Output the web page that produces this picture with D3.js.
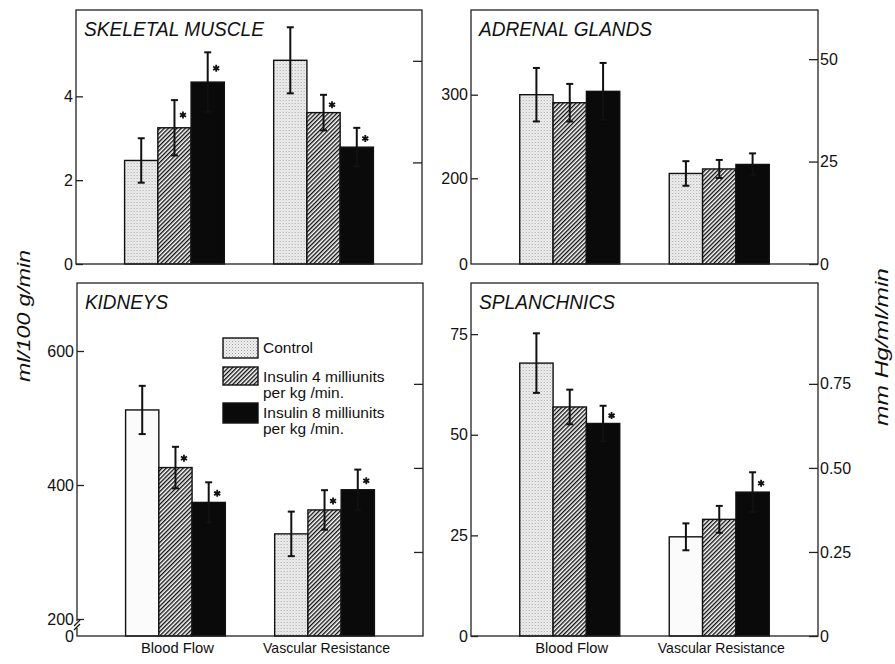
<!DOCTYPE html>
<html><head><meta charset="utf-8">
<script src="https://cdn.jsdelivr.net/npm/d3@7"></script>
<style>
body{margin:0;background:#fff}
svg{display:block}
text{font-family:"Liberation Sans",Arial,sans-serif;fill:#111}
</style>
</head><body>
<svg id="chart" width="895" height="664"></svg>
<script>
// ---------- data ----------
const groups = ["Blood Flow", "Vascular Resistance"];
const treatments = ["Control", "Insulin 4 milliunits per kg/min.", "Insulin 8 milliunits per kg/min."];
const panelNames = ["SKELETAL MUSCLE", "ADRENAL GLANDS", "KIDNEYS", "SPLANCHNICS"];
const legendLines = [["Control"], ["Insulin 4 milliunits", "per  kg /min."], ["Insulin 8 milliunits", "per kg /min."]];
const leftTitle = "ml/100 g/min";
const rightTitle = "mm Hg/ml/min";

// blood flow (left axis) and vascular resistance (right axis); means and SE
const skeletalFlow = [2.47, 3.25, 4.34];
const skeletalFlowSE = [0.53, 0.66, 0.71];
const skeletalResist = [40.1, 29.8, 23.0];
const skeletalResistSE = [6.5, 3.5, 3.8];
const skeletalStars = [[0, 1, 1], [0, 1, 1]];

const adrenalFlow = [300, 290.4, 304];
const adrenalFlowSE = [32, 22.5, 34];
const adrenalResist = [22.1, 23.2, 24.3];
const adrenalResistSE = [3.0, 2.2, 2.7];
const adrenalStars = [[0, 0, 0], [0, 0, 0]];

const kidneyFlow = [512, 426, 374];
const kidneyFlowSE = [36, 31, 30];
const kidneyResist = [12.15, 15.0, 17.4];
const kidneyResistSE = [2.65, 2.35, 2.4];
const kidneyStars = [[0, 1, 1], [0, 1, 1]];

const splanchFlow = [67.8, 56.9, 52.8];
const splanchFlowSE = [7.4, 4.3, 4.4];
const splanchResist = [0.295, 0.347, 0.428];
const splanchResistSE = [0.04, 0.04, 0.059];
const splanchStars = [[0, 0, 1], [0, 0, 1]];

// tick values
const skeletalLeftTicks = [0, 2, 4];
const skeletalRightTicks = [20, 40];
const adrenalLeftTicks = [200, 300];
const adrenalRightTicks = [0, 25, 50];
const kidneyLeftTicks = [200, 400, 600];
const kidneyRightTicks = [10, 20, 30];
const splanchLeftTicks = [0, 25, 50, 75];
const splanchRightTicks = [0, 0.25, 0.5, 0.75];
const splanchRightLabels = ["0", "0.25", "0.50", "0.75"];

// ---------- layout ----------
const svg = d3.select("#chart");
const defs = svg.append("defs");

const stip = defs.append("pattern").attr("id", "stipple").attr("patternUnits", "userSpaceOnUse")
  .attr("width", 3).attr("height", 3);
stip.append("rect").attr("width", 3).attr("height", 3).attr("fill", "#efefef");
stip.append("rect").attr("x", 0).attr("y", 0).attr("width", 1).attr("height", 1).attr("fill", "#a0a0a0");
stip.append("rect").attr("x", 1.5).attr("y", 1.5).attr("width", 1).attr("height", 1).attr("fill", "#c4c4c4");

const hatch = defs.append("pattern").attr("id", "hatch").attr("patternUnits", "userSpaceOnUse")
  .attr("width", 3).attr("height", 3).attr("patternTransform", "rotate(45)");
hatch.append("rect").attr("width", 3).attr("height", 3).attr("fill", "#fff");
hatch.append("line").attr("x1", 0.7).attr("y1", 0).attr("x2", 0.7).attr("y2", 3)
  .attr("stroke", "#111").attr("stroke-width", 1.4);

const fills = ["url(#stipple)", "url(#hatch)", "#0a0a0a"];
// control bars printed without stipple in the original
const plainControl = { "KIDNEYS": "Blood Flow", "SPLANCHNICS": "Vascular Resistance" };

const panels = [
  { name: panelNames[0], x: 76, y: 10, w: 346, h: 254, flow: skeletalFlow, flowSE: skeletalFlowSE,
    resist: skeletalResist, resistSE: skeletalResistSE, stars: skeletalStars,
    left: [0, 6.06], right: [0, 50], lt: skeletalLeftTicks, rt: skeletalRightTicks, rLabels: null, zeroLeft: false, brk: false, xLabels: false },
  { name: panelNames[1], x: 471, y: 10, w: 347, h: 254, flow: adrenalFlow, flowSE: adrenalFlowSE,
    resist: adrenalResist, resistSE: adrenalResistSE, stars: adrenalStars,
    left: [97.5, 401.3], right: [0, 62], lt: adrenalLeftTicks, rt: adrenalRightTicks, rLabels: adrenalRightTicks.map(String), zeroLeft: true, brk: false, xLabels: false },
  { name: panelNames[2], x: 77, y: 283, w: 346, h: 353, flow: kidneyFlow, flowSE: kidneyFlowSE,
    resist: kidneyResist, resistSE: kidneyResistSE, stars: kidneyStars,
    left: [174.6, 701.5], right: [0, 42], lt: kidneyLeftTicks, rt: kidneyRightTicks, rLabels: null, zeroLeft: true, brk: true, xLabels: true },
  { name: panelNames[3], x: 471, y: 283, w: 347, h: 353, flow: splanchFlow, flowSE: splanchFlowSE,
    resist: splanchResist, resistSE: splanchResistSE, stars: splanchStars,
    left: [0, 87.7], right: [0, 1.05], lt: splanchLeftTicks, rt: splanchRightTicks, rLabels: splanchRightLabels, zeroLeft: false, brk: false, xLabels: true }
];

const star = d3.symbol().type(d3.symbolAsterisk).size(34);

panels.forEach(p => {
  const g = svg.append("g").attr("transform", `translate(${p.x},${p.y})`);
  const x0 = d3.scaleBand().domain(groups).range([0, p.w]).paddingInner(0.331).paddingOuter(0.326);
  const x1 = d3.scaleBand().domain(treatments).range([0, x0.bandwidth()]);
  const yL = d3.scaleLinear().domain(p.left).range([p.h, 0]);
  const yR = d3.scaleLinear().domain(p.right).range([p.h, 0]);

  const series = [
    { grp: groups[0], vals: p.flow, se: p.flowSE, y: yL, st: p.stars[0] },
    { grp: groups[1], vals: p.resist, se: p.resistSE, y: yR, st: p.stars[1] }
  ];

  series.forEach(s => {
    const gg = g.append("g").attr("transform", `translate(${x0(s.grp)},0)`);
    const items = treatments.map((t, i) => ({ t, i, v: s.vals[i], e: s.se[i], star: s.st[i] }));
    gg.selectAll("rect.bar").data(items).join("rect")
      .attr("class", "bar")
      .attr("x", d => x1(d.t)).attr("width", x1.bandwidth())
      .attr("y", d => s.y(d.v)).attr("height", d => p.h - s.y(d.v))
      .attr("fill", d => (d.i === 0 && plainControl[p.name] === s.grp) ? "#fbfbfb" : fills[d.i])
      .attr("stroke", "#111").attr("stroke-width", 1.4);
    // error bars
    const eb = gg.selectAll("g.err").data(items).join("g").attr("class", "err")
      .attr("stroke", "#111").attr("stroke-width", 2);
    eb.append("line")
      .attr("x1", d => x1(d.t) + x1.bandwidth() / 2).attr("x2", d => x1(d.t) + x1.bandwidth() / 2)
      .attr("y1", d => s.y(d.v - d.e)).attr("y2", d => s.y(d.v + d.e));
    eb.append("line")
      .attr("x1", d => x1(d.t) + x1.bandwidth() / 2 - 3.5).attr("x2", d => x1(d.t) + x1.bandwidth() / 2 + 3.5)
      .attr("y1", d => s.y(d.v + d.e)).attr("y2", d => s.y(d.v + d.e));
    eb.append("line")
      .attr("x1", d => x1(d.t) + x1.bandwidth() / 2 - 3.5).attr("x2", d => x1(d.t) + x1.bandwidth() / 2 + 3.5)
      .attr("y1", d => s.y(d.v - d.e)).attr("y2", d => s.y(d.v - d.e));
    // significance asterisks
    gg.selectAll("path.star").data(items.filter(d => d.star)).join("path")
      .attr("class", "star")
      .attr("d", star)
      .attr("transform", d => `translate(${x1(d.t) + x1.bandwidth() / 2 + 8.5},${(s.y(d.v + d.e) + s.y(d.v)) / 2 + 1})`)
      .attr("fill", "none").attr("stroke", "#111").attr("stroke-width", 1.8);
  });

  // frame
  g.append("rect").attr("width", p.w).attr("height", p.h)
    .attr("fill", "none").attr("stroke", "#222").attr("stroke-width", 1.3);

  // left axis (ticks point inward)
  const la = g.append("g").call(d3.axisLeft(yL).tickValues(p.lt).tickSize(-7).tickPadding(3).tickFormat(d => String(d)));
  la.select(".domain").remove();
  la.selectAll("line").attr("stroke", "#222").attr("stroke-width", 1.3);
  la.selectAll("text").attr("font-size", 16).attr("fill", "#111").attr("font-family", "Liberation Sans, Arial, sans-serif");

  // right axis
  const ra = g.append("g").attr("transform", `translate(${p.w},0)`)
    .call(d3.axisRight(yR).tickValues(p.rt).tickSize(-9).tickPadding(2)
      .tickFormat((d, i) => p.rLabels ? p.rLabels[i] : ""));
  ra.select(".domain").remove();
  ra.selectAll("line").attr("stroke", "#222").attr("stroke-width", 1.3);
  ra.selectAll("text").attr("font-size", 16).attr("fill", "#111").attr("font-family", "Liberation Sans, Arial, sans-serif");

  if (p.zeroLeft) {
    g.append("text").attr("x", -3).attr("y", p.h).attr("dy", "0.35em")
      .attr("text-anchor", "end").attr("font-size", 16).text("0");
  }
  if (p.brk) {
    g.append("rect").attr("x", -3).attr("y", p.h - 15).attr("width", 6).attr("height", 7).attr("fill", "#fff");
    [p.h - 15, p.h - 11].forEach(yy => {
      g.append("line").attr("x1", -3).attr("y1", yy + 5).attr("x2", 3).attr("y2", yy - 1)
        .attr("stroke", "#111").attr("stroke-width", 1.3);
    });
  }

  // panel title
  g.append("text").attr("x", 8).attr("y", 26)
    .attr("font-size", 20).attr("font-style", "italic")
    .attr("textLength", { "SKELETAL MUSCLE": 180, "ADRENAL GLANDS": 173, "KIDNEYS": 83, "SPLANCHNICS": 136 }[p.name])
    .attr("lengthAdjust", "spacingAndGlyphs")
    .text(p.name);

  if (p.xLabels) {
    g.selectAll("text.xl").data(groups).join("text").attr("class", "xl")
      .attr("x", d => x0(d) + x0.bandwidth() / 2 + 2).attr("y", p.h + 17)
      .attr("text-anchor", "middle").attr("font-size", 14.5)
      .attr("textLength", d => d === groups[0] ? 73 : 127).attr("lengthAdjust", "spacingAndGlyphs")
      .text(d => d);
  }

  // legend in the kidney panel
  if (p.name === "KIDNEYS") {
    const lg = g.append("g").attr("transform", "translate(146,55)");
    const rows = [0, 29, 65];
    const hts = [20, 18, 20];
    treatments.forEach((t, i) => {
      lg.append("rect").attr("x", 0).attr("y", rows[i]).attr("width", 35).attr("height", hts[i])
        .attr("fill", fills[i]).attr("stroke", "#111").attr("stroke-width", 1.4);
      legendLines[i].forEach((ln, j) => {
        lg.append("text").attr("x", 40).attr("y", rows[i] + 15 + j * 16)
          .attr("font-size", 15.5).text(ln);
      });
    });
  }
});

// axis titles
svg.append("text").attr("transform", "translate(30,316) rotate(-90)")
  .attr("text-anchor", "middle").attr("font-size", 18).attr("font-style", "italic")
  .attr("textLength", 132).attr("lengthAdjust", "spacingAndGlyphs").text(leftTitle);
svg.append("text").attr("transform", "translate(888,347) rotate(-90)")
  .attr("text-anchor", "middle").attr("font-size", 18).attr("font-style", "italic")
  .attr("textLength", 158).attr("lengthAdjust", "spacingAndGlyphs").text(rightTitle);
</script>
</body></html>
